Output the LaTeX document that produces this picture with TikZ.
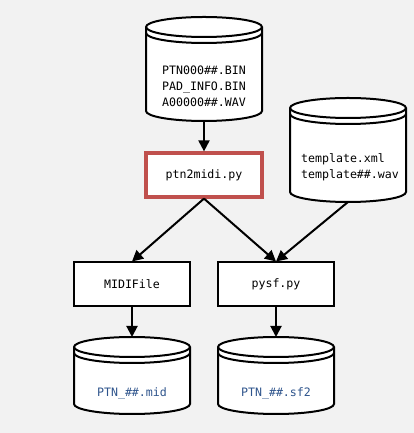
\documentclass[tikz,border=0pt]{standalone}
\usepackage{fontspec}
\newfontfamily\codefont{DejaVu Sans Mono}
\usetikzlibrary{arrows.meta,calc}
\pgfdeclarelayer{bg}\pgfsetlayers{bg,main}
\definecolor{bgc}{RGB}{242,242,242}
\definecolor{redb}{RGB}{192,80,77}
\definecolor{fileblue}{RGB}{46,84,140}
\tikzset{
 box/.style={draw=black, line width=2pt, fill=white, minimum width=116pt, minimum height=44pt, inner sep=0pt, font=\codefont\fontsize{11.6}{16}\selectfont},
 redbox/.style={box, draw=redb, line width=3.2pt},
 cyltext/.style={align=center, inner sep=0pt, font=\codefont\fontsize{11.6}{16}\selectfont},
 conn/.style={line width=2pt, -{Triangle[length=11pt,width=11pt]}},
 cylline/.style={line width=2pt}
}
% name, xleft, xright, ytop, ybottom
\newcommand\mycyl[5]{%
 \begin{pgfonlayer}{bg}
 \draw[cylline, fill=white] (#2,#4-10) -- (#2,#5+10)
   arc[start angle=180,end angle=360,x radius={(#3-#2)/2*1pt},y radius=10pt]
   -- (#3,#4-10)
   arc[start angle=0,end angle=180,x radius={(#3-#2)/2*1pt},y radius=10pt] -- cycle;
 \draw[cylline] (#2,#4-10) arc[start angle=180,end angle=360,x radius={(#3-#2)/2*1pt},y radius=10pt];
 \draw[cylline] (#2,#4-16) arc[start angle=180,end angle=360,x radius={(#3-#2)/2*1pt},y radius=10pt];
 \end{pgfonlayer}
 \coordinate (#1-top) at ({(#2+#3)/2},#4);
 \coordinate (#1-bot) at ({(#2+#3)/2},#5);
}
\begin{document}
\begin{tikzpicture}[x=1pt,y=1pt]
\begin{pgfonlayer}{bg}\fill[bgc] (0,0) rectangle (414,433);\end{pgfonlayer}
\useasboundingbox (0,0) rectangle (414,433);

\mycyl{db1}{146}{262}{416}{312}
\node[cyltext] (db1t) at (204,347) {PTN000\#\#.BIN\\PAD\_INFO.BIN\\A00000\#\#.WAV};

\mycyl{tpl}{290}{406}{335}{231}
\node[cyltext, align=left] (tplt) at (350,265.5) {template.xml\\template\#\#.wav};

\node[redbox] (ptn) at (204,258) {ptn2midi.py};
\node[box] (midi) at (132,148.5) {MIDIFile};
\node[box] (pysf) at (276,148.5) {pysf.py};

\mycyl{mid}{74}{190}{96}{19}
\node[cyltext, text=fileblue] (midt) at (132,40) {PTN\_\#\#.mid};
\mycyl{sf}{218}{334}{96}{19}
\node[cyltext, text=fileblue] (sft) at (276,40) {PTN\_\#\#.sf2};

\draw[conn] (db1-bot) -- (ptn.north);
\draw[conn] (ptn.south) -- (midi.north);
\draw[conn] (ptn.south) -- (pysf.north);
\draw[conn] (tpl-bot) -- (pysf.north);
\draw[conn] (midi.south) -- (mid-top);
\draw[conn] (pysf.south) -- (sf-top);
\end{tikzpicture}
\end{document}
